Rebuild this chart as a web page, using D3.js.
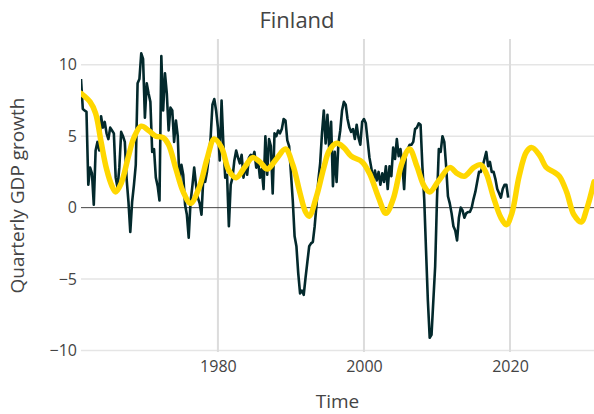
<!DOCTYPE html>
<html>
<head>
<meta charset="utf-8">
<script src="https://cdn.jsdelivr.net/npm/d3@7"></script>
<style>
  body { margin: 0; background: #fff; }
  text { font-family: "Open Sans", "Noto Sans", sans-serif; fill: #444; }
</style>
</head>
<body>
<div id="chart"></div>
<script>
const WIDTH = 594;
const HEIGHT = 414;

// quarterly GDP growth, first value is 1961 Q2
const gdpStart = 1961.25;
const gdpGrowth = [
  9.0, 6.9, 6.8,
  6.7, 1.6, 2.8, 2.4,
  0.2, 4.0, 4.6, 4.0,
  6.4, 5.6, 6.0, 5.2,
  4.8, 5.6, 5.4, 5.2,
  2.1, 1.4, 2.8, 5.3,
  5.0, 4.6, 2.0, 0.4,
  -1.7, 0.4, 1.6, 3.0,
  8.7, 9.0, 10.8, 10.4,
  6.3, 8.7, 8.0, 7.4,
  3.9, 4.1, 2.1, 1.5,
  0.5, 10.6, 6.8, 9.4,
  8.0, 5.4, 7.0, 6.8,
  4.6, 6.1, 5.0, 1.6,
  3.0, 2.3, 0.2, -0.5,
  -2.1, 0.4, 1.5, 2.8,
  1.6, 0.7, 0.3, -0.5,
  2.1, 1.8, 2.5, 3.5,
  4.9, 7.2, 7.6, 6.8,
  5.6, 3.3, 7.5, 4.4,
  2.1, 2.3, -1.3, 1.6,
  2.1, 3.3, 4.0, 3.5,
  3.1, 3.7, 2.1, 3.0,
  2.3, 3.5, 3.7, 3.5,
  3.9, 2.8, 3.3, 2.1,
  2.7, 1.3, 5.0, 2.3,
  4.8, 4.3, 1.0, 5.2,
  5.0, 5.4, 5.2, 5.5,
  6.2, 6.1, 4.7, 4.3,
  2.4, 0.5, -2.0, -2.7,
  -4.6, -6.0, -5.8, -6.1,
  -4.9, -3.8, -2.7, -2.5,
  -2.4, -1.3, 0.2, 1.9,
  3.1, 5.2, 6.8, 4.5,
  6.5, 4.0, 6.0, 1.5,
  3.9, 1.8, 4.5, 5.4,
  6.8, 7.4, 7.2, 6.2,
  5.6, 5.3, 5.5, 4.8,
  5.8, 4.9, 4.4, 6.0,
  6.2, 5.9, 4.7, 3.5,
  2.8, 1.9, 2.6, 1.9,
  2.5, 1.6, 2.4, 1.8,
  2.9, 1.3, 2.9, 2.2,
  4.2, 3.4, 4.8, 3.6,
  4.1, 3.0, 1.3, 3.9,
  4.1, 4.4, 4.4, 4.6,
  5.5, 5.6, 5.9, 5.8,
  2.9, 0.6, -3.0, -6.5,
  -9.1, -8.9, -6.5, -4.1,
  0.6, 4.1, 3.9, 5.0,
  4.6, 2.9, 0.8, 0.3,
  -0.4, -1.3, -1.6, -2.3,
  -0.7, 0.0, -0.2, -0.7,
  -0.4, -0.3, -0.3, 0.0,
  0.6, 1.1, 1.8, 2.5,
  2.5, 2.9, 3.4, 3.9,
  2.9, 3.2, 2.5, 2.5,
  2.0, 1.3, 1.0, 0.7,
  1.3, 1.6, 1.6, 0.7
];

// smoothed cycle (yellow), read at its turning points
const cycleTime = [
  1961.25, 1962.5, 1963.25, 1964.0, 1964.75, 1965.5, 1966.0, 1966.75, 1967.75, 1968.5,
  1969.5, 1970.5, 1971.5, 1972.5, 1973.25, 1974.25, 1975.25, 1976.25, 1977.5, 1978.5,
  1979.5, 1980.5, 1981.5, 1982.5, 1983.75, 1984.75, 1985.75, 1986.75, 1988.0, 1989.25,
  1990.25, 1991.25, 1992.0, 1992.5, 1993.5, 1994.5, 1995.25, 1996.25, 1997.25, 1998.25,
  1999.75, 2000.75, 2002.0, 2003.0, 2004.0, 2005.25, 2006.25, 2007.25, 2008.25, 2009.0,
  2010.25, 2011.75, 2012.75, 2013.75, 2015.0, 2016.0, 2016.75, 2017.75, 2018.75, 2019.5,
  2020.25, 2021.25, 2022.25, 2023.0, 2024.0, 2025.0, 2026.0, 2026.75, 2027.75, 2028.75,
  2029.75, 2030.5, 2031.5
];
const cycleValue = [
  8.0, 7.4, 6.6, 4.6, 2.7, 1.5, 1.1, 1.7, 3.6, 4.9,
  5.7, 5.4, 5.0, 4.9, 4.4, 2.7, 1.1, 0.3, 1.5, 3.4,
  4.8, 4.2, 2.6, 2.1, 2.9, 3.5, 3.2, 2.7, 3.4, 4.1,
  3.0, 1.0, -0.3, -0.6, 0.8, 2.8, 4.0, 4.5, 4.2, 3.6,
  3.2, 2.4, 0.7, -0.4, 0.6, 3.2, 4.1, 2.9, 1.5, 1.1,
  1.9, 2.8, 2.4, 2.2, 2.8, 3.0, 2.4, 0.7, -0.7, -1.2,
  -0.4, 2.2, 3.9, 4.2, 3.7, 2.8, 2.5, 2.2, 1.1, -0.5,
  -1.0, -0.1, 1.8
];

const xTicks = [1980, 2000, 2020];
const yTicks = [-10, -5, 0, 5, 10];

const margin = { top: 39, right: 0, bottom: 62, left: 81 };

let svg = d3
  .select("#chart")
  .append("svg")
  .attr("width", WIDTH)
  .attr("height", HEIGHT);

const x = d3.scaleLinear()
  .domain([1961.25, 2031.5])
  .range([margin.left, WIDTH - margin.right]);
const y = d3.scaleLinear()
  .domain([-10.1, 11.8])
  .range([HEIGHT - margin.bottom, margin.top]);

//grid lines
const grid = svg.append("g").attr("class", "grid");
grid.selectAll("line.h")
  .data(yTicks.filter((d) => d !== 0))
  .enter()
  .append("line")
  .attr("class", "h")
  .attr("x1", margin.left)
  .attr("x2", WIDTH - margin.right)
  .attr("y1", (d) => y(d))
  .attr("y2", (d) => y(d))
  .attr("stroke", "#e5e5e5")
  .attr("stroke-width", 1.5);
grid.selectAll("line.v")
  .data(xTicks)
  .enter()
  .append("line")
  .attr("class", "v")
  .attr("x1", (d) => x(d))
  .attr("x2", (d) => x(d))
  .attr("y1", margin.top)
  .attr("y2", HEIGHT - margin.bottom)
  .attr("stroke", "#dcdcdc")
  .attr("stroke-width", 2);

//zero line
svg.append("line")
  .attr("x1", margin.left)
  .attr("x2", WIDTH - margin.right)
  .attr("y1", y(0))
  .attr("y2", y(0))
  .attr("stroke", "#444")
  .attr("stroke-width", 1);

//axes (labels only, no domain or tick marks)
const yAxis = svg.append("g")
  .attr("transform", `translate(${margin.left - 1},0)`)
  .call(d3.axisLeft(y).tickValues(yTicks).tickSize(0).tickPadding(3).tickFormat(d3.format("d")));
yAxis.select(".domain").remove();
yAxis.selectAll("text").style("font-size", "16px").attr("fill", "#444");

const xAxis = svg.append("g")
  .attr("transform", `translate(0,${HEIGHT - margin.bottom})`)
  .call(d3.axisBottom(x).tickValues(xTicks).tickSize(0).tickPadding(9).tickFormat(d3.format("d")));
xAxis.select(".domain").remove();
xAxis.selectAll("text").style("font-size", "16px").attr("fill", "#444");

//clip to plot area
svg.append("defs").append("clipPath").attr("id", "plot")
  .append("rect")
  .attr("x", margin.left)
  .attr("y", margin.top)
  .attr("width", WIDTH - margin.left - margin.right)
  .attr("height", HEIGHT - margin.top - margin.bottom);

const gdpLine = d3.line()
  .x((d, i) => x(gdpStart + i * 0.25))
  .y((d) => y(d));

svg.append("path")
  .datum(gdpGrowth)
  .attr("clip-path", "url(#plot)")
  .attr("fill", "none")
  .attr("stroke", "#03292c")
  .attr("stroke-width", 2.6)
  .attr("stroke-linejoin", "round")
  .attr("d", gdpLine);

const cycleLine = d3.line()
  .curve(d3.curveCatmullRom.alpha(0.5))
  .x((d) => x(d[0]))
  .y((d) => y(d[1]));

svg.append("path")
  .datum(d3.zip(cycleTime, cycleValue))
  .attr("clip-path", "url(#plot)")
  .attr("fill", "none")
  .attr("stroke", "#ffd700")
  .attr("stroke-width", 5.5)
  .attr("stroke-linejoin", "round")
  .attr("stroke-linecap", "round")
  .attr("d", cycleLine);

//titles
svg.append("text")
  .attr("x", WIDTH / 2)
  .attr("y", 28)
  .attr("text-anchor", "middle")
  .style("font-size", "22px")
  .text("Finland");

svg.append("text")
  .attr("x", (margin.left + WIDTH - margin.right) / 2)
  .attr("y", 408)
  .attr("text-anchor", "middle")
  .style("font-size", "19px")
  .text("Time");

svg.append("text")
  .attr("transform", `translate(24,${(margin.top + HEIGHT - margin.bottom) / 2}) rotate(-90)`)
  .attr("text-anchor", "middle")
  .style("font-size", "19px")
  .text("Quarterly GDP growth");
</script>
</body>
</html>
